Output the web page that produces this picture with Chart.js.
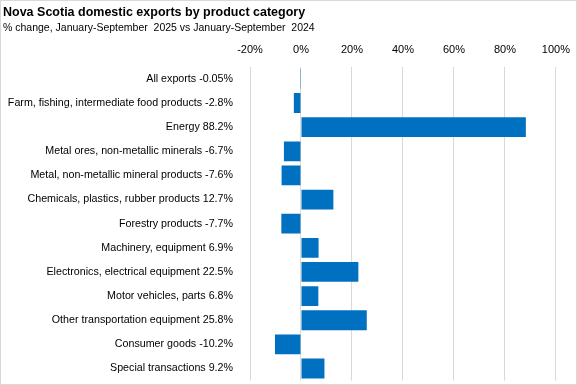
<!DOCTYPE html>
<html><head><meta charset="utf-8">
<script src="https://cdn.jsdelivr.net/npm/chart.js@4/dist/chart.umd.min.js"></script>
<style>
html,body{margin:0;padding:0;background:#fff;}
#wrap{width:577px;height:385px;box-sizing:border-box;border:1px solid #d9d9d9;position:relative;overflow:hidden;}
canvas{display:block;}
</style></head>
<body><div id="wrap"><canvas id="c" width="579" height="395"></canvas></div>
<script>
const categories = [
  "All exports",
  "Farm, fishing, intermediate food products",
  "Energy",
  "Metal ores, non-metallic minerals",
  "Metal, non-metallic mineral products",
  "Chemicals, plastics, rubber products",
  "Forestry products",
  "Machinery, equipment",
  "Electronics, electrical equipment",
  "Motor vehicles, parts",
  "Other transportation equipment",
  "Consumer goods",
  "Special transactions"
];
const pctChange = [-0.05, -2.8, 88.2, -6.7, -7.6, 12.7, -7.7, 6.9, 22.5, 6.8, 25.8, -10.2, 9.2];
const xTicks = [-20, 0, 20, 40, 60, 80, 100];
const labels = categories.map((c, i) => c + ' ' + pctChange[i] + '%');
const FONT = "'Liberation Sans', Arial, sans-serif";

new Chart(document.getElementById('c'), {
  type: 'bar',
  data: {
    labels: labels,
    datasets: [{
      data: pctChange,
      backgroundColor: '#0070C0',
      borderWidth: 0,
      barPercentage: 0.82,
      categoryPercentage: 1.0
    }]
  },
  options: {
    indexAxis: 'y',
    responsive: false,
    animation: false,
    layout: { padding: { left: 2, right: 15, top: 0, bottom: 0 } },
    plugins: {
      legend: { display: false },
      tooltip: { enabled: false },
      title: {
        display: true,
        text: 'Nova Scotia domestic exports by product category',
        align: 'start',
        color: '#000',
        font: { family: FONT, size: 12.5, weight: 'bold' },
        padding: { top: 4, bottom: 2 }
      },
      subtitle: {
        display: true,
        text: '% change, January-September  2025 vs January-September  2024',
        align: 'start',
        color: '#000',
        font: { family: FONT, size: 10.5 },
        padding: { top: 0, bottom: -1 }
      }
    },
    scales: {
      x: {
        position: 'top',
        min: -20,
        max: 100,
        afterBuildTicks: (s) => { s.ticks = xTicks.map(v => ({ value: v })); },
        ticks: {
          color: '#000',
          font: { family: FONT, size: 11 },
          padding: 10,
          callback: (v) => v + '%'
        },
        grid: { color: '#d9d9d9', drawTicks: false },
        border: { display: false }
      },
      y: {
        afterFit: (s) => { s.width = 247; },
        ticks: {
          color: '#000',
          font: { family: FONT, size: 10.7 },
          padding: 9,
          autoSkip: false
        },
        grid: { display: false },
        border: { display: false }
      }
    }
  }
});
</script></body></html>
